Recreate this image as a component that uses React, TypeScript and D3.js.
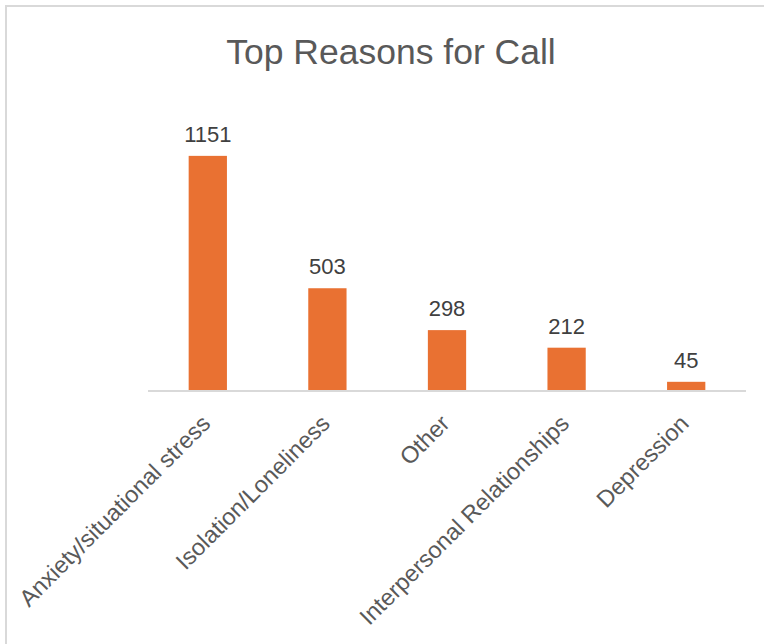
import React from "react";
import * as d3 from "d3";

const categories = [
  "Anxiety/situational stress",
  "Isolation/Loneliness",
  "Other",
  "Interpersonal Relationships",
  "Depression",
];
const values = [1151, 503, 298, 212, 45];
const title = "Top Reasons for Call";

const W = 764;
const H = 644;
const plotLeft = 148;
const plotRight = 746;
const plotBottom = 391;
const plotTop = 105;
const font = "'Liberation Sans', Arial, sans-serif";

export default function App() {
  const x = d3.scaleBand<string>().domain(categories).range([plotLeft, plotRight]).padding(0);
  const y = d3.scaleLinear().domain([0, 1400]).range([plotBottom, plotTop]);
  const barW = x.bandwidth() * 0.32;

  return (
    <svg
      width={W}
      height={H}
      style={{ position: "absolute", left: 0, top: 0, background: "#fff" }}
    >
      <rect x={0} y={0} width={W} height={H} fill="#fff" />
      <rect x={6} y={6} width={W + 10} height={H + 10} fill="#fff" stroke="#d9d9d9" strokeWidth={2} />
      <text
        x={391}
        y={64}
        textAnchor="middle"
        fontFamily={font}
        fontSize={35.5}
        fill="#595959"
      >
        {title}
      </text>
      {categories.map((c, i) => {
        const cx = (x(c) as number) + x.bandwidth() / 2;
        return (
          <g key={c}>
            <rect
              x={cx - barW / 2}
              y={y(values[i])}
              width={barW}
              height={plotBottom - y(values[i])}
              fill="#E97132"
            />
            <text
              x={cx}
              y={y(values[i]) - 14}
              textAnchor="middle"
              fontFamily={font}
              fontSize={22}
              fill="#404040"
            >
              {values[i]}
            </text>
            <text
              transform={`translate(${cx + 4},${425}) rotate(-45)`}
              textAnchor="end"
              fontFamily={font}
              fontSize={23.5}
              fill="#595959"
            >
              {c}
            </text>
          </g>
        );
      })}
      <line x1={plotLeft} x2={plotRight} y1={plotBottom} y2={plotBottom} stroke="#d9d9d9" strokeWidth={2} />
    </svg>
  );
}
